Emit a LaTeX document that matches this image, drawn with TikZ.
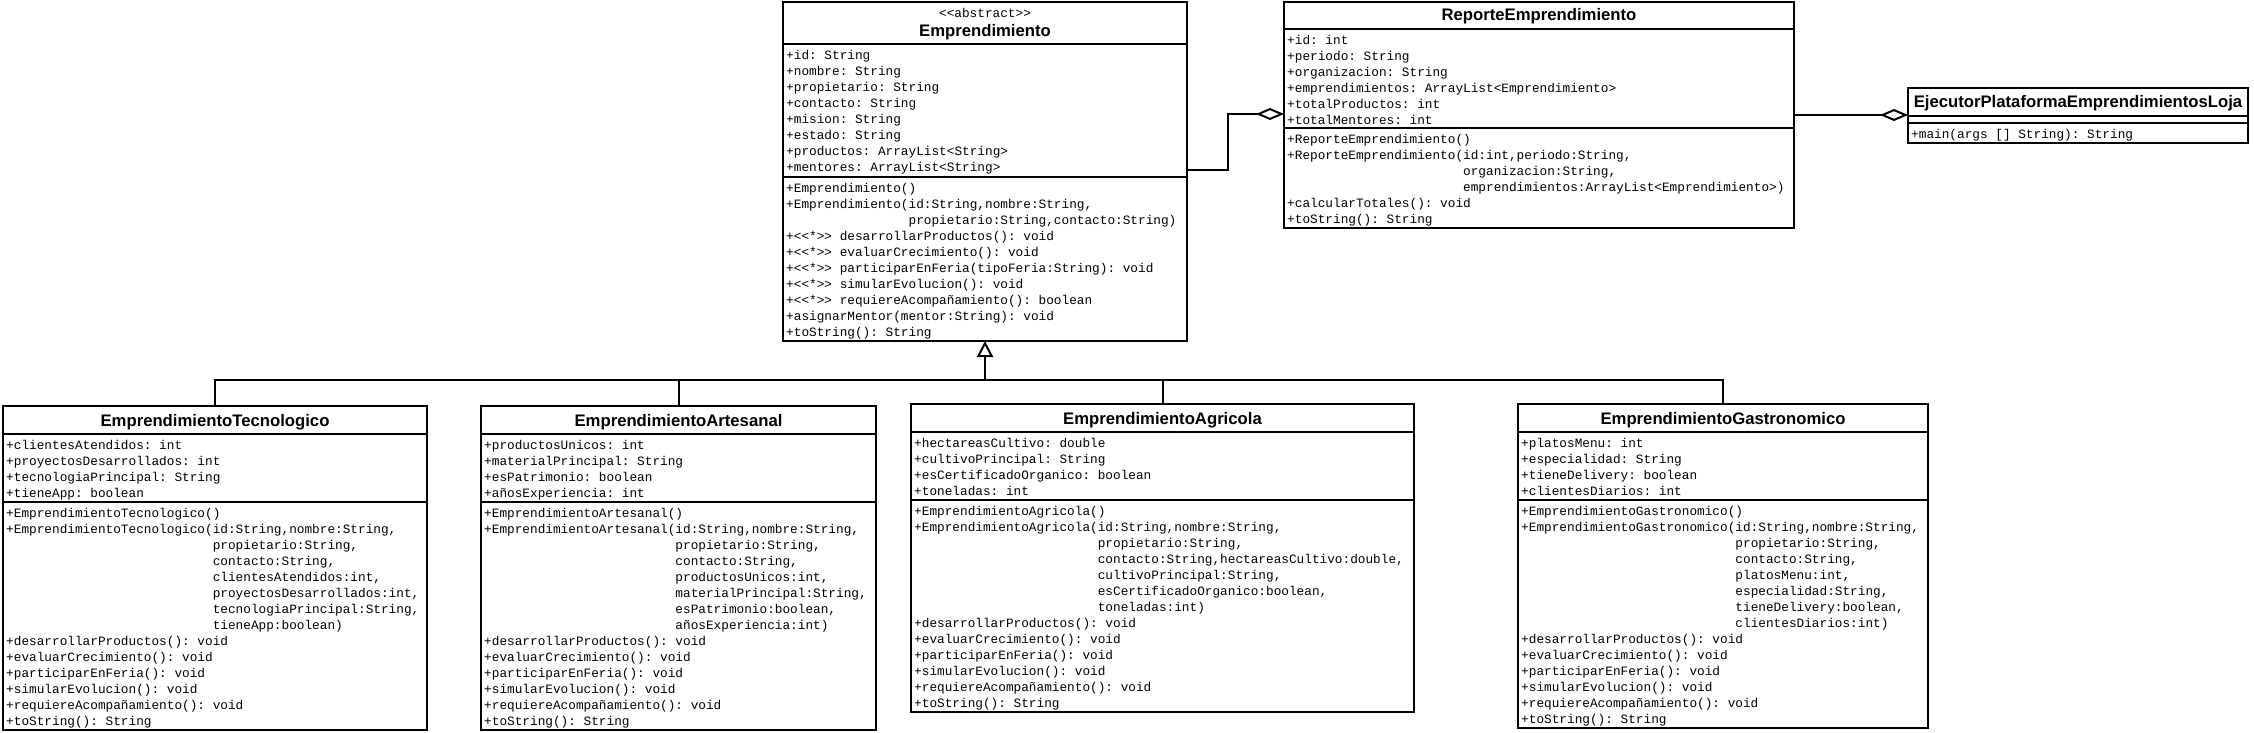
\documentclass[tikz,border=0pt]{standalone}
\usepackage{fontspec}
\newfontfamily\umlmono{Liberation Mono}[Ligatures=TeXOff]
\newfontfamily\umlsans{Liberation Sans}
\usetikzlibrary{arrows.meta}
\tikzset{
  box/.style={draw, line width=2pt, rectangle, inner sep=0pt, outer sep=0pt, anchor=north west},
  sepl/.style={line width=2pt},
  txt/.style={inner sep=0pt, anchor=north west, align=left, yshift=11.2pt,
    font=\umlmono\fontsize{12.75}{16}\selectfont\frenchspacing},
  ttl/.style={inner sep=0pt, anchor=base, font=\umlsans\bfseries\fontsize{16.7}{20}\selectfont},
  stereo/.style={inner sep=0pt, anchor=base, font=\umlmono\fontsize{12.75}{16}\selectfont},
  conn/.style={line width=2pt},
  aggr/.style={conn, -{Diamond[open, length=28pt, width=12pt]}},
  gen/.style={conn, -{Triangle[open, length=16pt, width=16pt]}},
}
\newcommand\umlclass[7]{% name,left,top,right,bottom,sep1,sep2
  \node[box, minimum width={#4-#2}, minimum height={#5-#3}] (#1) at (#2,#3) {};
  \draw[sepl] (#2,#6) -- (#4,#6);
  \draw[sepl] (#2,#7) -- (#4,#7);
}
\begin{document}
\begin{tikzpicture}[x=1pt, y=-1pt]
\path[use as bounding box, fill=white] (0,0) rectangle (2254,733);

% ---------------- Emprendimiento
\umlclass{empr}{783}{2}{1187}{341}{44}{177}
\node[stereo] (emprS) at (985,18) {<<abstract>>};
\node[ttl] (emprN) at (985,37) {Emprendimiento};
\node[txt] (emprA) at (786,59) {\strut+id: String\\
+nombre: String\\
+propietario: String\\
+contacto: String\\
+mision: String\\
+estado: String\\
+productos: ArrayList<String>\\
+mentores: ArrayList<String>};
\node[txt] (emprM) at (786,192) {\strut+Emprendimiento()\\
+Emprendimiento(id:String,nombre:String,\\
\hphantom{+Emprendimiento(}propietario:String,contacto:String)\\
+<<*>> desarrollarProductos(): void\\
+<<*>> evaluarCrecimiento(): void\\
+<<*>> participarEnFeria(tipoFeria:String): void\\
+<<*>> simularEvolucion(): void\\
+<<*>> requiereAcompañamiento(): boolean\\
+asignarMentor(mentor:String): void\\
+toString(): String};

% ---------------- ReporteEmprendimiento
\umlclass{rep}{1284}{2}{1794}{228}{29}{128}
\node[ttl] (repN) at (1539,21) {ReporteEmprendimiento};
\node[txt] (repA) at (1287,44) {\strut+id: int\\
+periodo: String\\
+organizacion: String\\
+emprendimientos: ArrayList<Emprendimiento>\\
+totalProductos: int\\
+totalMentores: int};
\node[txt] (repM) at (1287,143) {\strut+ReporteEmprendimiento()\\
+ReporteEmprendimiento(id:int,periodo:String,\\
\hphantom{+ReporteEmprendimiento(}organizacion:String,\\
\hphantom{+ReporteEmprendimiento(}emprendimientos:ArrayList<Emprendimiento>)\\
+calcularTotales(): void\\
+toString(): String};

% ---------------- Ejecutor
\umlclass{eje}{1908}{88}{2248}{143}{116}{123}
\node[ttl] (ejeN) at (2078,108) {EjecutorPlataformaEmprendimientosLoja};
\node[txt] (ejeM) at (1911,138) {\strut+main(args [] String): String};

% ---------------- Tecnologico
\umlclass{tec}{3}{406}{427}{730}{434}{502}
\node[ttl] (tecN) at (215,426) {EmprendimientoTecnologico};
\node[txt] (tecA) at (6,449) {\strut+clientesAtendidos: int\\
+proyectosDesarrollados: int\\
+tecnologiaPrincipal: String\\
+tieneApp: boolean};
\node[txt] (tecM) at (6,517) {\strut+EmprendimientoTecnologico()\\
+EmprendimientoTecnologico(id:String,nombre:String,\\
\hphantom{+EmprendimientoTecnologico(}propietario:String,\\
\hphantom{+EmprendimientoTecnologico(}contacto:String,\\
\hphantom{+EmprendimientoTecnologico(}clientesAtendidos:int,\\
\hphantom{+EmprendimientoTecnologico(}proyectosDesarrollados:int,\\
\hphantom{+EmprendimientoTecnologico(}tecnologiaPrincipal:String,\\
\hphantom{+EmprendimientoTecnologico(}tieneApp:boolean)\\
+desarrollarProductos(): void\\
+evaluarCrecimiento(): void\\
+participarEnFeria(): void\\
+simularEvolucion(): void\\
+requiereAcompañamiento(): void\\
+toString(): String};

% ---------------- Artesanal
\umlclass{art}{481}{406}{876}{730}{434}{502}
\node[ttl] (artN) at (678.5,426) {EmprendimientoArtesanal};
\node[txt] (artA) at (484,449) {\strut+productosUnicos: int\\
+materialPrincipal: String\\
+esPatrimonio: boolean\\
+añosExperiencia: int};
\node[txt] (artM) at (484,517) {\strut+EmprendimientoArtesanal()\\
+EmprendimientoArtesanal(id:String,nombre:String,\\
\hphantom{+EmprendimientoArtesanal(}propietario:String,\\
\hphantom{+EmprendimientoArtesanal(}contacto:String,\\
\hphantom{+EmprendimientoArtesanal(}productosUnicos:int,\\
\hphantom{+EmprendimientoArtesanal(}materialPrincipal:String,\\
\hphantom{+EmprendimientoArtesanal(}esPatrimonio:boolean,\\
\hphantom{+EmprendimientoArtesanal(}añosExperiencia:int)\\
+desarrollarProductos(): void\\
+evaluarCrecimiento(): void\\
+participarEnFeria(): void\\
+simularEvolucion(): void\\
+requiereAcompañamiento(): void\\
+toString(): String};

% ---------------- Agricola
\umlclass{agr}{911}{404}{1414}{712}{432}{500}
\node[ttl] (agrN) at (1162.5,424) {EmprendimientoAgricola};
\node[txt] (agrA) at (914,447) {\strut+hectareasCultivo: double\\
+cultivoPrincipal: String\\
+esCertificadoOrganico: boolean\\
+toneladas: int};
\node[txt] (agrM) at (914,515) {\strut+EmprendimientoAgricola()\\
+EmprendimientoAgricola(id:String,nombre:String,\\
\hphantom{+EmprendimientoAgricola(}propietario:String,\\
\hphantom{+EmprendimientoAgricola(}contacto:String,hectareasCultivo:double,\\
\hphantom{+EmprendimientoAgricola(}cultivoPrincipal:String,\\
\hphantom{+EmprendimientoAgricola(}esCertificadoOrganico:boolean,\\
\hphantom{+EmprendimientoAgricola(}toneladas:int)\\
+desarrollarProductos(): void\\
+evaluarCrecimiento(): void\\
+participarEnFeria(): void\\
+simularEvolucion(): void\\
+requiereAcompañamiento(): void\\
+toString(): String};

% ---------------- Gastronomico
\umlclass{gas}{1518}{404}{1928}{728}{432}{500}
\node[ttl] (gasN) at (1723,424) {EmprendimientoGastronomico};
\node[txt] (gasA) at (1521,447) {\strut+platosMenu: int\\
+especialidad: String\\
+tieneDelivery: boolean\\
+clientesDiarios: int};
\node[txt] (gasM) at (1521,515) {\strut+EmprendimientoGastronomico()\\
+EmprendimientoGastronomico(id:String,nombre:String,\\
\hphantom{+EmprendimientoGastronomico(}propietario:String,\\
\hphantom{+EmprendimientoGastronomico(}contacto:String,\\
\hphantom{+EmprendimientoGastronomico(}platosMenu:int,\\
\hphantom{+EmprendimientoGastronomico(}especialidad:String,\\
\hphantom{+EmprendimientoGastronomico(}tieneDelivery:boolean,\\
\hphantom{+EmprendimientoGastronomico(}clientesDiarios:int)\\
+desarrollarProductos(): void\\
+evaluarCrecimiento(): void\\
+participarEnFeria(): void\\
+simularEvolucion(): void\\
+requiereAcompañamiento(): void\\
+toString(): String};

% ---------------- connectors
\coordinate (hub) at (985,380);
\draw[conn] (tec.north) |- (hub);
\draw[conn] (art.north) |- (hub);
\draw[conn] (agr.north) |- (hub);
\draw[conn] (gas.north) |- (hub);
\draw[gen] (hub) -- (empr.south);

\draw[aggr] (empr.east |- 0,170) -- ++(41,0) |- (rep.west |- 0,114);
\draw[aggr] (rep.east |- 0,115) -- (eje.west |- 0,115);
\end{tikzpicture}
\end{document}
